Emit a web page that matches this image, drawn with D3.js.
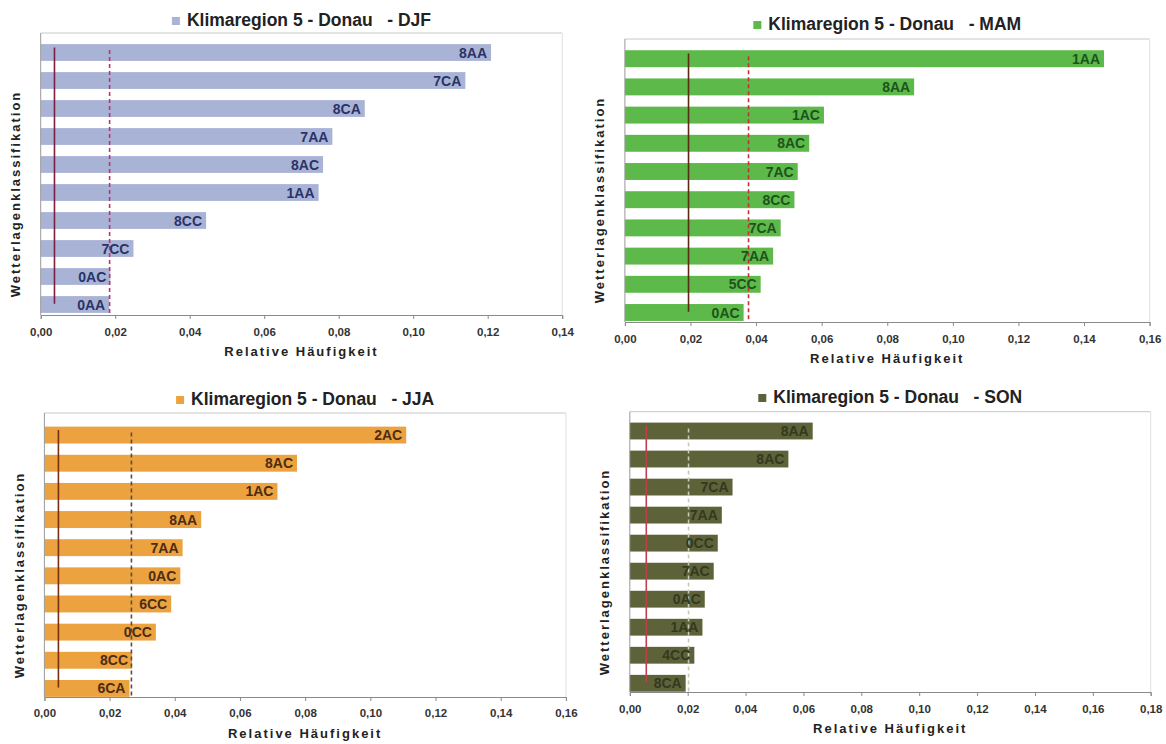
<!DOCTYPE html>
<html><head><meta charset="utf-8">
<script src="https://cdn.jsdelivr.net/npm/d3@7"></script>
<style>
body{margin:0;background:#fff;}
svg{display:block;}
text{font-family:"Liberation Sans",Arial,Helvetica,sans-serif;}
</style>
</head><body>
<svg id="c" width="1166" height="744"></svg>
<script>
// ---------- data ----------
const seasons = ["DJF", "MAM", "JJA", "SON"];
const titlePrefix = "Klimaregion 5 - Donau   - ";
const axisTitleX = "Relative  Häufigkeit";
const axisTitleY = "Wetterlagenklassifikation";

const djfCategories = ["8AA","7CA","8CA","7AA","8AC","1AA","8CC","7CC","0AC","0AA"];
const djfValues     = [0.1209,0.1140,0.0870,0.0783,0.0758,0.0746,0.0444,0.0249,0.0187,0.0184];
const djfRefLines   = [0.0037, 0.0185];   // solid, dashed
const djfTicks      = [0,0.02,0.04,0.06,0.08,0.10,0.12,0.14];

const mamCategories = ["1AA","8AA","1AC","8AC","7AC","8CC","7CA","7AA","5CC","0AC"];
const mamValues     = [0.1461,0.0882,0.0607,0.0562,0.0527,0.0517,0.0475,0.0452,0.0414,0.0362];
const mamRefLines   = [0.0194, 0.0377];
const mamTicks      = [0,0.02,0.04,0.06,0.08,0.10,0.12,0.14,0.16];

const jjaCategories = ["2AC","8AC","1AC","8AA","7AA","0AC","6CC","0CC","8CC","6CA"];
const jjaValues     = [0.1110,0.0775,0.0715,0.0481,0.0424,0.0417,0.0389,0.0342,0.0269,0.0261];
const jjaRefLines   = [0.0043, 0.0267];
const jjaTicks      = [0,0.02,0.04,0.06,0.08,0.10,0.12,0.14,0.16];

const sonCategories = ["8AA","8AC","7CA","7AA","0CC","7AC","0AC","1AA","4CC","8CA"];
const sonValues     = [0.0632,0.0548,0.0355,0.0318,0.0304,0.0290,0.0259,0.0251,0.0223,0.0193];
const sonRefLines   = [0.0057, 0.0203];
const sonTicks      = [0,0.02,0.04,0.06,0.08,0.10,0.12,0.14,0.16,0.18];

// ---------- styles & layout ----------
const styles = {
  DJF:{bar:"#a9b3d6", label:"#2a3366", solid:"#7b2040", dashed:"#c0336e"},
  MAM:{bar:"#5db949", label:"#1d531d", solid:"#5b2b12", dashed:"#c83232"},
  JJA:{bar:"#eba23f", label:"#4d2c12", solid:"#7a2e12", dashed:"#5a4d44"},
  SON:{bar:"#5d6239", label:"#34391f", solid:"#c0404a", dashed:"#c9c9b8"}
};
const layouts = {
  DJF:{x0:40.7, x1:562.2, frameTop:33,  b0:38.5,b1:318.5, axisY:315, tickY:333, xTitleY:353, titleY:21,  yTitleX:17,   yTitleY:194},
  MAM:{x0:624.9,x1:1149.6,frameTop:39,  b0:44.6,b1:326.6, axisY:322, tickY:340, xTitleY:360, titleY:25,  yTitleX:600.6,yTitleY:200},
  JJA:{x0:44.4, x1:565.9, frameTop:413, b0:421, b1:702.5, axisY:697, tickY:714, xTitleY:735, titleY:400, yTitleX:20.4, yTitleY:575},
  SON:{x0:629.8,x1:1150.7,frameTop:411.7,b0:417,b1:697.3, axisY:692, tickY:710, xTitleY:730, titleY:398, yTitleX:606,  yTitleY:572}
};
const dataBySeason = {
  DJF:{cats:djfCategories, vals:djfValues, refs:djfRefLines, ticks:djfTicks},
  MAM:{cats:mamCategories, vals:mamValues, refs:mamRefLines, ticks:mamTicks},
  JJA:{cats:jjaCategories, vals:jjaValues, refs:jjaRefLines, ticks:jjaTicks},
  SON:{cats:sonCategories, vals:sonValues, refs:sonRefLines, ticks:sonTicks}
};

const fmt = d3.formatLocale({decimal:",", thousands:".", grouping:[3], currency:["","€"]}).format(".2f");
const svg = d3.select("#c");

seasons.forEach(season => {
  const d = dataBySeason[season], L = layouts[season], S = styles[season];
  const xMax = d.ticks[d.ticks.length-1];
  const x = d3.scaleLinear().domain([0, xMax]).range([L.x0, L.x1]);
  const y = d3.scaleBand().domain(d.cats).range([L.b0, L.b1]).paddingInner(0.4).paddingOuter(0.2);
  const g = svg.append("g");
  const bw = y.bandwidth();

  // frame (top and right), light
  g.append("line").attr("x1", L.x0).attr("x2", L.x1).attr("y1", L.frameTop).attr("y2", L.frameTop)
    .attr("stroke", "#c8c8c8").attr("stroke-width", 1);
  g.append("line").attr("x1", L.x1).attr("x2", L.x1).attr("y1", L.frameTop).attr("y2", L.axisY)
    .attr("stroke", "#e0e0e0").attr("stroke-width", 1);

  // bars
  g.selectAll("rect.bar").data(d.cats).join("rect").attr("class","bar")
    .attr("x", x(0)).attr("y", c => y(c))
    .attr("width", (c,i) => x(d.vals[i]) - x(0)).attr("height", bw)
    .attr("fill", S.bar);

  // reference lines
  const first = y(d.cats[0]), last = y(d.cats[d.cats.length-1]);
  g.append("line").attr("x1", x(d.refs[0])).attr("x2", x(d.refs[0]))
    .attr("y1", first + bw*0.2).attr("y2", last + bw*0.45)
    .attr("stroke", S.solid).attr("stroke-width", 1.6);
  g.append("line").attr("x1", x(d.refs[1])).attr("x2", x(d.refs[1]))
    .attr("y1", first + bw*0.35).attr("y2", last + bw)
    .attr("stroke", S.dashed).attr("stroke-width", 1.6).attr("stroke-dasharray", "4,3");

  // bar labels
  g.selectAll("text.lab").data(d.cats).join("text").attr("class","lab")
    .attr("x", (c,i) => x(d.vals[i]) - 4).attr("y", c => y(c) + bw/2)
    .attr("dy", "0.36em").attr("text-anchor", "end")
    .attr("font-size", 14).attr("font-weight", "bold").attr("fill", S.label)
    .text(c => c);

  // x axis
  const ax = g.append("g").attr("transform", `translate(0,${L.axisY})`)
    .call(d3.axisBottom(x).tickValues(d.ticks).tickFormat(fmt).tickSize(4).tickPadding(9));
  ax.select(".domain").attr("stroke", "#8a8a8a");
  ax.selectAll(".tick line").attr("stroke", "#8a8a8a");
  ax.selectAll(".tick text").attr("font-size", 11.5).attr("font-weight", "bold")
    .attr("fill", "#333").attr("font-family", '"Liberation Sans",Arial,sans-serif')
    .attr("dy", null).attr("y", L.tickY - L.axisY).attr("dominant-baseline", "middle");

  // y axis line
  g.append("line").attr("x1", L.x0).attr("x2", L.x0).attr("y1", L.frameTop).attr("y2", L.axisY)
    .attr("stroke", "#9a9a9a").attr("stroke-width", 1);

  // axis titles
  g.append("text").attr("x", (L.x0 + L.x1)/2).attr("y", L.xTitleY)
    .attr("text-anchor", "middle").attr("dominant-baseline", "middle")
    .attr("font-size", 13).attr("font-weight", "bold").attr("letter-spacing", "2px").attr("fill", "#222")
    .text(axisTitleX);
  g.append("text").attr("transform", `translate(${L.yTitleX},${L.yTitleY}) rotate(-90)`)
    .attr("text-anchor", "middle").attr("dominant-baseline", "middle")
    .attr("font-size", 13).attr("font-weight", "bold").attr("letter-spacing", "2px").attr("fill", "#222")
    .text(axisTitleY);

  // title with legend square
  const tg = g.append("g");
  const tt = tg.append("text").attr("x", 0).attr("y", L.titleY).attr("dominant-baseline", "middle")
    .attr("font-size", 17.5).attr("font-weight", "bold").attr("fill", "#222")
    .attr("xml:space", "preserve").style("white-space", "pre")
    .text(titlePrefix + season);
  const tw = tt.node().getComputedTextLength();
  const total = 8 + 7 + tw;
  const startX = (L.x0 + L.x1)/2 - total/2;
  tg.insert("rect", "text").attr("x", startX).attr("y", L.titleY - 4).attr("width", 8).attr("height", 8)
    .attr("fill", S.bar);
  tt.attr("x", startX + 15);
});
</script>
</body></html>
